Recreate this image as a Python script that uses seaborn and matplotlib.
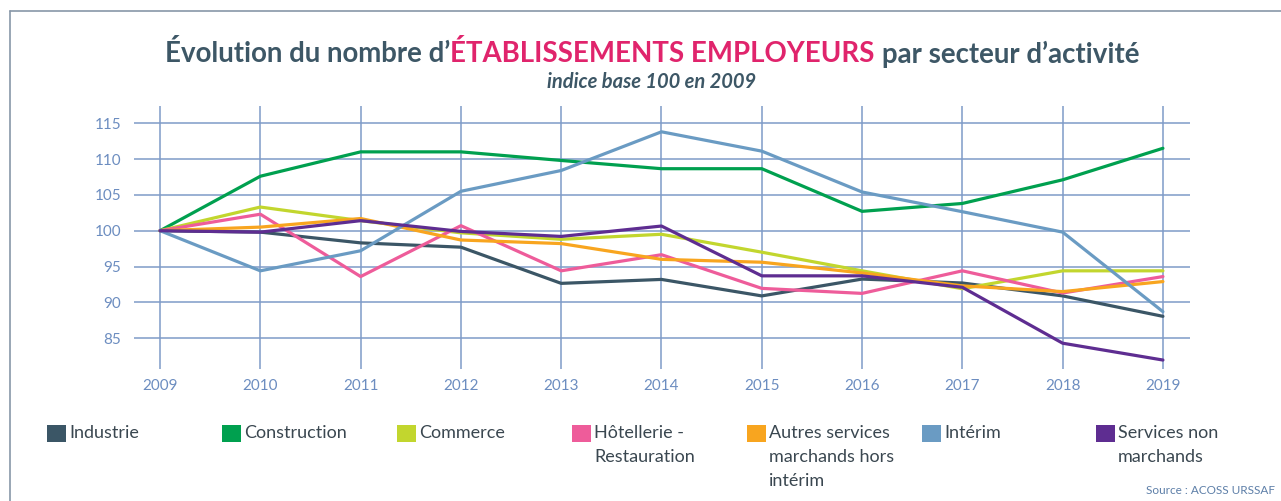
import numpy as np
import pandas as pd
import seaborn as sns
import matplotlib
matplotlib.use("Agg")
import matplotlib.pyplot as plt
from matplotlib.patches import Rectangle
from matplotlib.lines import Line2D

# ---------------- data ----------------
years = [2009, 2010, 2011, 2012, 2013, 2014, 2015, 2016, 2017, 2018, 2019]
industrie = [100, 99.8, 98.3, 97.7, 92.65, 93.2, 90.9, 93.25, 92.7, 90.9, 88.05]
construction = [100, 107.6, 111.0, 111.0, 109.8, 108.65, 108.65, 102.7, 103.8, 107.1, 111.5]
commerce = [100, 103.3, 101.4, 99.7, 98.8, 99.5, 97.0, 94.4, 91.9, 94.4, 94.4]
hotellerie = [100, 102.3, 93.6, 100.7, 94.4, 96.65, 91.95, 91.25, 94.4, 91.3, 93.6]
autres_services = [100, 100.5, 101.7, 98.7, 98.2, 96.0, 95.6, 94.1, 92.3, 91.5, 92.9]
interim = [100, 94.4, 97.2, 105.5, 108.4, 113.8, 111.1, 105.4, 102.65, 99.8, 88.7]
services_non_marchands = [100, 99.8, 101.4, 99.9, 99.2, 100.65, 93.7, 93.7, 92.1, 84.3, 81.95]

series_names = ["Industrie", "Construction", "Commerce", "Hôtellerie - Restauration",
                "Autres services marchands hors intérim", "Intérim", "Services non marchands"]
legend_labels = ["Industrie", "Construction", "Commerce", "Hôtellerie -\nRestauration",
                 "Autres services\nmarchands hors\nintérim", "Intérim", "Services non\nmarchands"]
series_values = [industrie, construction, commerce, hotellerie, autres_services, interim,
                 services_non_marchands]
colors = ["#3b5666", "#00a04f", "#c2d62e", "#ee5c9a", "#f8a51f", "#6a9bc3", "#5e2d91"]
y_ticks = [85, 90, 95, 100, 105, 110, 115]

title_parts = ["Évolution du nombre d’", "ÉTABLISSEMENTS EMPLOYEURS", "par secteur d’activité"]
subtitle = "indice base 100 en 2009"
source = "Source : ACOSS URSSAF"

# ---------------- figure ----------------
sns.set_theme(style="white")
plt.rcParams["font.family"] = ["Lato", "DejaVu Sans"]

W, H = 1281, 501
fig = plt.figure(figsize=(W / 100, H / 100), dpi=100)
fig.patch.set_facecolor("white")

ax = fig.add_axes([134 / W, 1 - 369 / H, (1190 - 134) / W, (369 - 106) / H])

rows = []
for name, vals in zip(series_names, series_values):
    for yr, v in zip(years, vals):
        rows.append({"annee": yr, "indice": v, "secteur": name})
df = pd.DataFrame(rows)

sns.lineplot(data=df, x="annee", y="indice", hue="secteur", hue_order=series_names,
             palette=colors, linewidth=2.3, legend=False, ax=ax)

grid_c = "#7f9bc7"
tick_c = "#6c8dc0"
ax.set_xlim(2008.74, 2019.27)
ax.set_ylim(80.7, 117.4)
ax.set_xticks(years)
ax.set_yticks(y_ticks)
ax.grid(True, color=grid_c, linewidth=1.1)
ax.set_axisbelow(True)
for s in ax.spines.values():
    s.set_visible(False)
ax.tick_params(axis="both", length=0, labelsize=11, colors=tick_c)
ax.tick_params(axis="y", pad=9)
ax.tick_params(axis="x", pad=7)
ax.set_xlabel("")
ax.set_ylabel("")
ax.set_facecolor("white")

# ---------------- frame ----------------
frame_c = "#8797a8"
fig.add_artist(Line2D([9.5 / W, 9.5 / W], [0, 1 - 10.5 / H], transform=fig.transFigure,
                      color=frame_c, linewidth=1.2))
fig.add_artist(Line2D([9.5 / W, 1], [1 - 10.5 / H, 1 - 10.5 / H], transform=fig.transFigure,
                      color=frame_c, linewidth=1.2))

# ---------------- title ----------------
dark = "#3d5766"
pink = "#e0246c"
renderer = fig.canvas.get_renderer()
full = title_parts[0] + title_parts[1] + " " + title_parts[2]
probe = fig.text(0, 0, full, fontsize=20, fontweight="bold")
w = probe.get_window_extent(renderer).width
probe.remove()
tsize = 20 * 975 / w


def text_width(s):
    t = fig.text(0, 0, s, fontsize=tsize, fontweight="bold")
    ww = t.get_window_extent(renderer).width
    t.remove()
    return ww


total = text_width(full)
x0 = 652 - total / 2
off1 = text_width(title_parts[0])
off2 = text_width(title_parts[0] + title_parts[1] + " p") - text_width("p")
ty = 1 - 54 / H
fig.text(x0 / W, ty, title_parts[0], fontsize=tsize, fontweight="bold", color=dark, va="center")
fig.text((x0 + off1) / W, ty, title_parts[1], fontsize=tsize, fontweight="bold", color=pink, va="center")
fig.text((x0 + off2) / W, ty, title_parts[2], fontsize=tsize, fontweight="bold", color=dark, va="center")

fig.text(652 / W, 1 - 82 / H, subtitle, fontsize=14.5, fontweight="bold", fontstyle="italic",
         color=dark, ha="center", va="center")

# ---------------- legend ----------------
sq_left = [47, 222, 397, 572, 747, 922, 1096]
leg_c = "#3a4750"
for xl, lab, col in zip(sq_left, legend_labels, colors):
    fig.add_artist(Rectangle((xl / W, 1 - 442 / H), 19 / W, 17 / H, transform=fig.transFigure,
                             facecolor=col, edgecolor="none"))
    fig.text((xl + 22) / W, 1 - 425 / H, lab, fontsize=13, color=leg_c, ha="left", va="top",
             linespacing=1.6)

fig.text(1275 / W, 1 - 491 / H, source, fontsize=8.5, color="#5d7fa8", ha="right", va="center")

fig.savefig("out.png", dpi=100, facecolor="white")
